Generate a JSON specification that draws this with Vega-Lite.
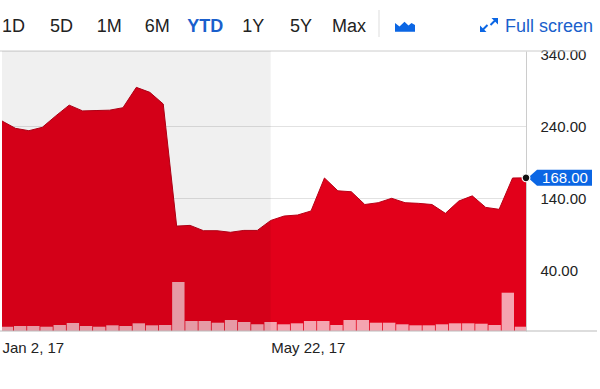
{
  "$schema": "https://vega.github.io/schema/vega-lite/v6.json",
  "width": 524,
  "height": 280,
  "autosize": {"type": "none"},
  "padding": {"left": 2, "top": 51, "right": 74, "bottom": 58},
  "background": "white",
  "datasets": {
    "prices": [
      {"date": "2017-01-02", "price": 247, "volume": 4.3},
      {"date": "2017-01-09", "price": 236.8, "volume": 5},
      {"date": "2017-01-16", "price": 233.5, "volume": 5},
      {"date": "2017-01-23", "price": 238.2, "volume": 4.3},
      {"date": "2017-01-30", "price": 254, "volume": 6},
      {"date": "2017-02-06", "price": 269, "volume": 8},
      {"date": "2017-02-13", "price": 261, "volume": 5},
      {"date": "2017-02-20", "price": 261.5, "volume": 4.3},
      {"date": "2017-02-27", "price": 262, "volume": 5.7},
      {"date": "2017-03-06", "price": 265.4, "volume": 5},
      {"date": "2017-03-13", "price": 293.7, "volume": 7.7},
      {"date": "2017-03-20", "price": 286.8, "volume": 5.7},
      {"date": "2017-03-27", "price": 270.6, "volume": 6},
      {"date": "2017-04-03", "price": 101, "volume": 49},
      {"date": "2017-04-10", "price": 102, "volume": 10},
      {"date": "2017-04-17", "price": 94.6, "volume": 10},
      {"date": "2017-04-24", "price": 94.6, "volume": 8.3},
      {"date": "2017-05-01", "price": 92.4, "volume": 11},
      {"date": "2017-05-08", "price": 95, "volume": 9},
      {"date": "2017-05-15", "price": 95, "volume": 6.7},
      {"date": "2017-05-22", "price": 108.8, "volume": 9},
      {"date": "2017-05-29", "price": 115, "volume": 6.7},
      {"date": "2017-06-05", "price": 116.4, "volume": 7.7},
      {"date": "2017-06-12", "price": 122, "volume": 10},
      {"date": "2017-06-19", "price": 167.8, "volume": 10},
      {"date": "2017-06-26", "price": 150, "volume": 6},
      {"date": "2017-07-03", "price": 148.7, "volume": 11},
      {"date": "2017-07-10", "price": 131, "volume": 11},
      {"date": "2017-07-17", "price": 133.5, "volume": 8.3},
      {"date": "2017-07-24", "price": 139.6, "volume": 8.3},
      {"date": "2017-07-31", "price": 133.5, "volume": 6.7},
      {"date": "2017-08-07", "price": 132.6, "volume": 5.7},
      {"date": "2017-08-14", "price": 131, "volume": 5.7},
      {"date": "2017-08-21", "price": 118.7, "volume": 6.7},
      {"date": "2017-08-28", "price": 135.8, "volume": 7.7},
      {"date": "2017-09-04", "price": 143, "volume": 7.7},
      {"date": "2017-09-11", "price": 127, "volume": 7.3},
      {"date": "2017-09-18", "price": 124.3, "volume": 6},
      {"date": "2017-09-25", "price": 167.8, "volume": 38.3},
      {"date": "2017-10-02", "price": 168, "volume": 4.3}
    ],
    "last": [{"date": "2017-10-02", "price": 168}]
  },
  "layer": [
    {
      "data": {"values": [{"edge": "top"}]},
      "mark": {"type": "rule", "color": "#cccccc", "strokeWidth": 1},
      "encoding": {
        "x": {"datum": {"year": 2016, "month": "dec", "date": 31, "utc": true}, "type": "temporal", "scale": {"type": "utc", "domain": [{"year": 2017, "month": "jan", "date": 2, "utc": true}, {"year": 2017, "month": "oct", "date": 2, "utc": true}]}, "axis": null},
        "x2": {"datum": {"year": 2017, "month": "nov", "date": 2, "utc": true}},
        "y": {"datum": 344.2, "type": "quantitative", "scale": {"domain": [-44.7, 344.2], "nice": false, "zero": false}, "axis": null}
      }
    },
    {
      "data": {"name": "prices"},
      "mark": {"type": "area", "color": "#e2001a", "opacity": 1, "line": {"color": "#b80016", "strokeWidth": 1}},
      "encoding": {
        "x": {
          "field": "date", "type": "temporal",
          "scale": {"type": "utc", "domain": [{"year": 2017, "month": "jan", "date": 2, "utc": true}, {"year": 2017, "month": "oct", "date": 2, "utc": true}]},
          "axis": {
            "orient": "bottom",
            "values": [{"year": 2017, "month": "jan", "date": 2, "utc": true}, {"year": 2017, "month": "may", "date": 22, "utc": true}],
            "labelExpr": "utcFormat(datum.value, '%b %-d, %y')",
            "labelAlign": "left", "labelFontSize": 15, "labelColor": "#222222",
            "labelPadding": 9, "ticks": false, "tickSize": 0, "domain": false, "grid": false,
            "title": null, "labelFlush": false, "labelOverlap": false
          }
        },
        "y": {
          "field": "price", "type": "quantitative",
          "scale": {"domain": [-44.7, 344.2], "nice": false, "zero": false},
          "axis": {
            "orient": "right", "values": [40, 140, 240, 340], "format": ".2f",
            "labelFontSize": 15, "labelColor": "#222222", "labelPadding": 14,
            "ticks": false, "tickSize": 0, "domain": true, "domainColor": "#cccccc",
            "grid": true, "gridColor": "#e2e2e2",
            "gridOpacity": {"condition": {"test": "datum.value === 340", "value": 0}, "value": 1},
            "title": null
          }
        },
        "y2": {"datum": -44.7}
      }
    },
    {
      "data": {"name": "prices"},
      "mark": {"type": "bar", "color": "#f5a4b0", "opacity": 1, "size": 12.4, "clip": true},
      "encoding": {
        "x": {"field": "date", "type": "temporal", "scale": {"type": "utc", "domain": [{"year": 2017, "month": "jan", "date": 2, "utc": true}, {"year": 2017, "month": "oct", "date": 2, "utc": true}]}, "axis": null},
        "y": {"field": "volume", "type": "quantitative", "scale": {"domain": [0, 280], "nice": false}, "axis": null}
      }
    },
    {
      "data": {"values": [{"start": "2017-01-02", "end": "2017-05-22"}]},
      "mark": {"type": "rect", "color": "#000000", "opacity": 0.06},
      "encoding": {
        "x": {"field": "start", "type": "temporal", "scale": {"type": "utc", "domain": [{"year": 2017, "month": "jan", "date": 2, "utc": true}, {"year": 2017, "month": "oct", "date": 2, "utc": true}]}, "axis": null},
        "x2": {"field": "end"}
      }
    },
    {
      "data": {"values": [{"edge": "bottom"}]},
      "mark": {"type": "rule", "color": "#bbbbbb", "strokeWidth": 1},
      "encoding": {
        "x": {"datum": {"year": 2016, "month": "dec", "date": 31, "utc": true}, "type": "temporal", "scale": {"type": "utc", "domain": [{"year": 2017, "month": "jan", "date": 2, "utc": true}, {"year": 2017, "month": "oct", "date": 2, "utc": true}]}, "axis": null},
        "x2": {"datum": {"year": 2017, "month": "nov", "date": 8, "utc": true}},
        "y": {"datum": -44.7, "type": "quantitative", "scale": {"domain": [-44.7, 344.2], "nice": false, "zero": false}, "axis": null}
      }
    },
    {
      "data": {"name": "last"},
      "mark": {"type": "point", "shape": "M2,0 L11,-8 L66,-8 L66,8 L11,8 Z", "size": 4, "filled": true, "color": "#0b66e4", "opacity": 1, "strokeWidth": 0},
      "encoding": {
        "x": {"field": "date", "type": "temporal", "scale": {"type": "utc", "domain": [{"year": 2017, "month": "jan", "date": 2, "utc": true}, {"year": 2017, "month": "oct", "date": 2, "utc": true}]}, "axis": null},
        "y": {"field": "price", "type": "quantitative", "scale": {"domain": [-44.7, 344.2], "nice": false, "zero": false}, "axis": null}
      }
    },
    {
      "data": {"name": "last"},
      "mark": {"type": "text", "dx": 39, "color": "#ffffff", "fontSize": 15, "align": "center", "baseline": "middle", "font": "Liberation Sans"},
      "encoding": {
        "x": {"field": "date", "type": "temporal", "scale": {"type": "utc", "domain": [{"year": 2017, "month": "jan", "date": 2, "utc": true}, {"year": 2017, "month": "oct", "date": 2, "utc": true}]}, "axis": null},
        "y": {"field": "price", "type": "quantitative", "scale": {"domain": [-44.7, 344.2], "nice": false, "zero": false}, "axis": null},
        "text": {"field": "price", "type": "quantitative", "format": ".2f"}
      }
    },
    {
      "data": {"name": "last"},
      "mark": {"type": "point", "shape": "circle", "size": 60, "filled": true, "color": "#111111", "opacity": 1, "stroke": "#ffffff", "strokeWidth": 1.2},
      "encoding": {
        "x": {"field": "date", "type": "temporal", "scale": {"type": "utc", "domain": [{"year": 2017, "month": "jan", "date": 2, "utc": true}, {"year": 2017, "month": "oct", "date": 2, "utc": true}]}, "axis": null},
        "y": {"field": "price", "type": "quantitative", "scale": {"domain": [-44.7, 344.2], "nice": false, "zero": false}, "axis": null}
      }
    },
    {
      "data": {"values": [{"item": "1D"}, {"item": "5D"}, {"item": "1M"}, {"item": "6M"}, {"item": "1Y"}, {"item": "5Y"}, {"item": "Max"}]},
      "mark": {"type": "text", "fontSize": 18, "color": "#222222", "align": "center", "baseline": "alphabetic", "font": "Liberation Sans"},
      "encoding": {
        "x": {"field": "item", "type": "nominal", "scale": {"type": "point", "domain": ["1D", "5D", "1M", "6M", "YTD", "1Y", "5Y", "Max"], "range": [11.5, 347], "padding": 0}, "axis": null},
        "y": {"datum": 371, "type": "quantitative", "scale": {"domain": [-44.7, 344.2], "nice": false, "zero": false}, "axis": null},
        "text": {"field": "item", "type": "nominal"}
      }
    },
    {
      "data": {"values": [{"item": "YTD"}]},
      "mark": {"type": "text", "fontSize": 18, "fontWeight": "bold", "color": "#1a5fcc", "align": "center", "baseline": "alphabetic", "font": "Liberation Sans"},
      "encoding": {
        "x": {"field": "item", "type": "nominal", "scale": {"type": "point", "domain": ["1D", "5D", "1M", "6M", "YTD", "1Y", "5Y", "Max"], "range": [11.5, 347], "padding": 0}, "axis": null},
        "y": {"datum": 371, "type": "quantitative", "scale": {"domain": [-44.7, 344.2], "nice": false, "zero": false}, "axis": null},
        "text": {"field": "item", "type": "nominal"}
      }
    },
    {
      "data": {"values": [{"item": "sep"}, {"item": "chart"}, {"item": "expand"}]},
      "mark": {"type": "point", "size": 4, "filled": true, "opacity": 1, "strokeWidth": 0},
      "encoding": {
        "x": {"field": "item", "type": "nominal", "scale": {"type": "point", "domain": ["sep", "chart", "g1", "g2", "expand"], "range": [377, 487], "padding": 0}, "axis": null},
        "y": {"datum": 380.3, "type": "quantitative", "scale": {"domain": [-44.7, 344.2], "nice": false, "zero": false}, "axis": null},
        "shape": {"field": "item", "type": "nominal", "scale": {"domain": ["sep", "chart", "expand"], "range": ["M-0.5,-15 L0.5,-15 L0.5,12 L-0.5,12 Z", "M-11.5,6.7 L-11.5,-2 L-7,1.5 L-2,-3.3 L2,0.5 L5,-2 L8.5,0 L8.5,6.7 Z", "M9,-7 L9,-0.5 L2.5,-7 Z M6.2,-3.3 L4.8,-4.7 L0.8,-0.7 L2.2,0.7 Z M-9,7 L-9,0.5 L-2.5,7 Z M-6.2,3.3 L-4.8,4.7 L-0.8,0.7 L-2.2,-0.7 Z"]}, "legend": null},
        "color": {"field": "item", "type": "nominal", "scale": {"domain": ["sep", "chart", "expand"], "range": ["#dddddd", "#0b66e4", "#0b66e4"]}, "legend": null}
      }
    },
    {
      "data": {"values": [{"item": "expand", "label": "Full screen"}]},
      "mark": {"type": "text", "dx": 16, "fontSize": 18, "color": "#1a5fcc", "align": "left", "baseline": "alphabetic", "font": "Liberation Sans"},
      "encoding": {
        "x": {"field": "item", "type": "nominal", "scale": {"type": "point", "domain": ["sep", "chart", "g1", "g2", "expand"], "range": [377, 487], "padding": 0}, "axis": null},
        "y": {"datum": 371, "type": "quantitative", "scale": {"domain": [-44.7, 344.2], "nice": false, "zero": false}, "axis": null},
        "text": {"field": "label", "type": "nominal"}
      }
    }
  ],
  "resolve": {"scale": {"x": "independent", "y": "independent", "color": "independent", "shape": "independent"}},
  "config": {
    "view": {"stroke": null},
    "axis": {"labelFont": "Liberation Sans"},
    "text": {"font": "Liberation Sans"}
  }
}
